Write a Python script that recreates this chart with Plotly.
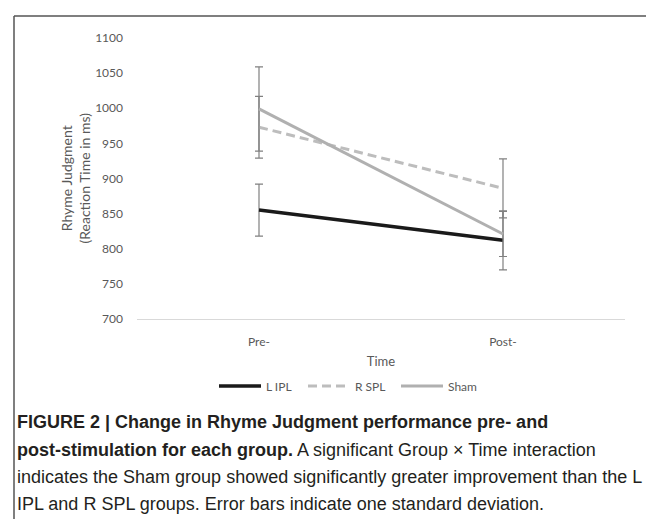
import plotly.graph_objects as go

times = ["Pre-", "Post-"]
groups = ["L IPL", "R SPL", "Sham"]
l_ipl = [855, 812]
l_ipl_sd = [37, 42]
r_spl = [973, 886]
r_spl_sd = [44, 42]
sham = [999, 821]
sham_sd = [60, 32]
y_ticks = [700, 750, 800, 850, 900, 950, 1000, 1050, 1100]

caption_lines = [
    "<b>FIGURE 2 | Change in Rhyme Judgment performance pre- and</b>",
    "<b>post-stimulation for each group.</b> A significant Group \u00d7 Time interaction",
    "indicates the Sham group showed significantly greater improvement than the L",
    "IPL and R SPL groups. Error bars indicate one standard deviation.",
]

W, H = 654, 519
ML, MR, MT, MB = 129, 37, 30, 208
PW, PH = W - ML - MR, H - MT - MB

def px(x):
    return (x - ML) / PW

def py(y):
    return (H - MB - y) / PH

chart_font = "Lato, Open Sans, sans-serif"
grey_txt = "#595959"
err_col = "#808080"

styles = {
    "L IPL": ("#1a1a1a", "solid", 3.5),
    "R SPL": ("#bdbdbd", "9px,5px", 3),
    "Sham": ("#b0b0b0", "solid", 3),
}
values = {"L IPL": (l_ipl, l_ipl_sd), "R SPL": (r_spl, r_spl_sd), "Sham": (sham, sham_sd)}

fig = go.Figure()
for name in groups:
    col, dash, w = styles[name]
    vals, sd = values[name]
    fig.add_trace(go.Scatter(
        x=times, y=vals, name=name, mode="lines",
        line=dict(color=col, width=w, dash=dash),
        error_y=dict(type="data", array=sd, visible=True, color=err_col,
                     thickness=1.2, width=4),
        showlegend=False,
    ))

fig.update_layout(
    width=W, height=H,
    margin=dict(l=ML, r=MR, t=MT, b=MB),
    plot_bgcolor="white", paper_bgcolor="white",
    font=dict(family=chart_font, size=12, color=grey_txt),
    xaxis=dict(range=[-0.5, 1.5], showgrid=False, showline=True, linecolor="#d9d9d9",
               linewidth=1, ticks="", zeroline=False, ticklabelstandoff=12,
               tickfont=dict(family=chart_font, size=12, color=grey_txt),
               title=dict(text="Time", font=dict(family=chart_font, size=13, color=grey_txt),
                          standoff=8)),
    yaxis=dict(range=[700, 1100], tickvals=y_ticks, showgrid=False, showline=False,
               zeroline=False, ticks="", ticklabelstandoff=13,
               tickfont=dict(family=chart_font, size=12, color=grey_txt)),
)

fig.add_annotation(
    text="Rhyme Judgment<br>(Reaction Time in ms)", xref="paper", yref="paper",
    x=px(67), y=0.5, textangle=-90, showarrow=False, xanchor="center", yanchor="middle",
    font=dict(family=chart_font, size=14, color=grey_txt),
)

# legend drawn manually
leg_x = [211, 300, 393]
leg_y = 378
for name, x0 in zip(groups, leg_x):
    col, dash, w = styles[name]
    fig.add_shape(type="line", xref="paper", yref="paper", x0=px(x0), x1=px(x0 + 42),
                  y0=py(leg_y), y1=py(leg_y), line=dict(color=col, width=w, dash=dash))
    fig.add_annotation(text=name, xref="paper", yref="paper", x=px(x0 + 45), y=py(leg_y),
                       xanchor="left", yanchor="middle", showarrow=False,
                       font=dict(family=chart_font, size=12, color=grey_txt))

cap_y = [414, 442, 469, 496]
for t, yy in zip(caption_lines, cap_y):
    fig.add_annotation(
        text=t, xref="paper", yref="paper", x=px(7), y=py(yy), xanchor="left",
        yanchor="middle", showarrow=False, align="left",
        font=dict(family="Liberation Sans, Arial, sans-serif", size=18, color="#231f20"),
    )

fig.add_shape(type="line", xref="paper", yref="paper", x0=px(6), x1=px(654),
              y0=py(8), y1=py(8), line=dict(color="#555555", width=1.5))
fig.add_shape(type="line", xref="paper", yref="paper", x0=px(6), x1=px(6),
              y0=py(8), y1=py(519), line=dict(color="#555555", width=1.5))

fig.write_html("out.html")
